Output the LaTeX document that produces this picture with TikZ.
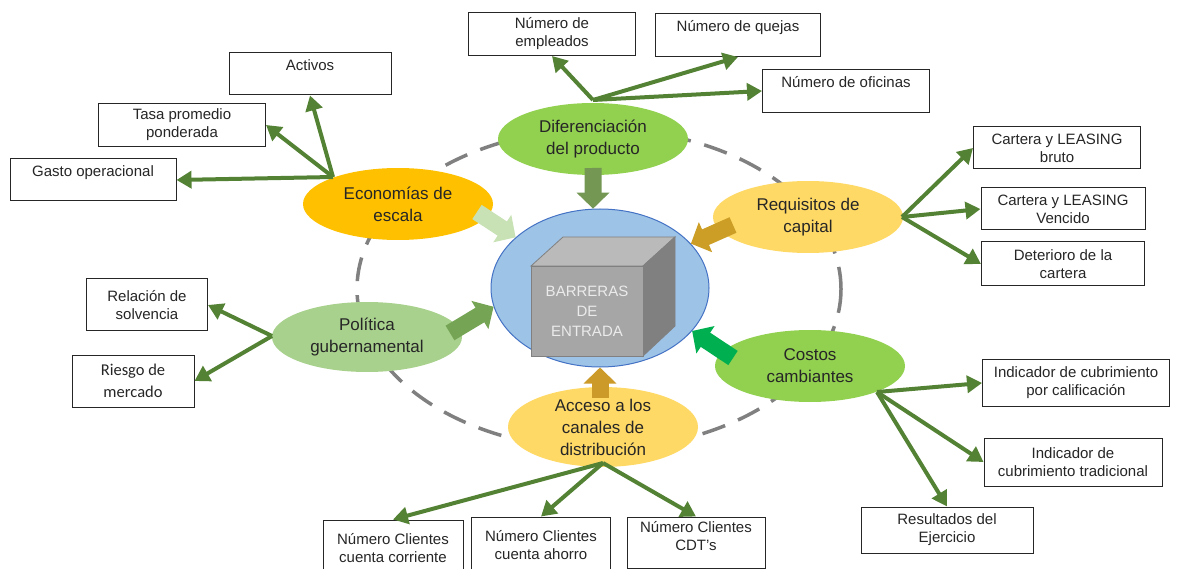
\documentclass[tikz,border=0pt]{standalone}
\usepackage{fontspec}
\setmainfont{Liberation Sans}
\newfontfamily\carlito{Carlito}
\usepackage{tikz}
\usetikzlibrary{positioning,arrows.meta,shapes.geometric}
\usepackage{xcolor}
\definecolor{linkgreen}{RGB}{84,130,53}
\definecolor{ringgray}{RGB}{128,128,128}
\definecolor{coreblue}{RGB}{157,195,230}
\definecolor{coreedge}{RGB}{68,114,196}
\definecolor{econfill}{RGB}{255,192,0}
\definecolor{diffill}{RGB}{146,208,80}
\definecolor{reqfill}{RGB}{255,217,102}
\definecolor{polfill}{RGB}{169,209,142}
\definecolor{difpush}{RGB}{116,152,84}
\definecolor{econpush}{RGB}{200,226,182}
\definecolor{reqpush}{RGB}{204,158,38}
\definecolor{polpush}{RGB}{116,164,84}
\definecolor{costpush}{RGB}{0,176,80}
\definecolor{accpush}{RGB}{204,154,40}

\tikzset{
  factor/.style={ellipse,minimum width=190pt,minimum height=72pt,inner sep=0pt,
                 align=center,text=black!85,font=\fontsize{17}{22}\selectfont},
  itembox/.style={rectangle,draw=black!85,line width=1pt,fill=white,inner sep=2pt,
                  align=center,text=black!85,font=\fontsize{15}{18}\selectfont},
  link/.style={draw=linkgreen,line width=4pt,-{Triangle[length=15pt,width=17pt]}},
  push/.style={line width=17pt,-{Triangle[length=16pt,width=32pt]}}
}

\begin{document}
\begin{tikzpicture}[x=1pt,y=-1pt]
\useasboundingbox (0,0) rectangle (1178,569);

\draw[ringgray,line width=3.5pt,dash pattern=on 24pt off 14pt] (599,289) ellipse [x radius=242,y radius=160];

\node[ellipse,draw=coreedge,line width=1pt,fill=coreblue,minimum width=218pt,minimum height=158pt] (barreras) at (600,288) {};
\fill[black!27,draw=black!50,line width=0.8pt] (531,266) -- (563,237) -- (675,237) -- (643,266) -- cycle;
\fill[black!50,draw=black!50,line width=0.8pt] (643,266) -- (675,237) -- (675,326) -- (643,356) -- cycle;
\fill[black!35!white,draw=black!50,line width=0.8pt] (531,266) rectangle (643,356);
\node[align=center,text=white!92!black,font=\fontsize{15}{20}\selectfont] (barrerastxt) at (587,311) {BARRERAS\\DE\\ENTRADA};

\node[factor,fill=diffill] (dif) at (593,139) {Diferenciación\\del producto};
\node[factor,fill=econfill] (econ) at (398,204) {Economías de\\escala};
\node[factor,fill=reqfill] (req) at (808,217) {Requisitos de\\capital};
\node[factor,fill=polfill,minimum height=70pt] (pol) at (367,337) {Política\\gubernamental};
\node[factor,fill=diffill] (cost) at (810,366) {Costos\\cambiantes};
\node[factor,fill=reqfill,minimum height=70pt] (acc) at (603,427) {Acceso a los\\canales de\\distribución};

\coordinate (diftail) at (593,168);
\coordinate (econtail) at (477,212);
\coordinate (reqtail) at (733,225);
\coordinate (poltail) at (450,333);
\coordinate (costtail) at (733,358);
\coordinate (acctail) at (600,398);
\draw[push,difpush] (diftail) -- (barreras.95);
\draw[push,econpush] (econtail) -- (barreras.149);
\draw[push,reqpush] (reqtail) -- (barreras.26);
\draw[push,polpush] (poltail) -- (barreras.190);
\draw[push,costpush] (costtail) -- (barreras.335);
\draw[push,accpush] (acctail) -- (barreras.270);

\node[itembox,minimum width=162pt,minimum height=42pt] (activos) at (310,74) {Activos\\~};
\node[itembox,minimum width=167pt,minimum height=43pt] (tasa) at (182,125) {Tasa promedio\\ponderada};
\node[itembox,minimum width=166pt,minimum height=42pt] (gasto) at (93,180) {Gasto operacional\\~};
\node[itembox,minimum width=167pt,minimum height=43pt] (empleados) at (552,34) {Número de\\empleados};
\node[itembox,minimum width=165pt,minimum height=43pt] (quejas) at (738,35) {Número de quejas\\~};
\node[itembox,minimum width=167pt,minimum height=43pt] (oficinas) at (846,91) {Número de oficinas\\~};
\node[itembox,minimum width=167pt,minimum height=42pt] (bruto) at (1057,148) {Cartera y LEASING\\bruto};
\node[itembox,minimum width=164pt,minimum height=42pt] (vencido) at (1063,209) {Cartera y LEASING\\Vencido};
\node[itembox,minimum width=163pt,minimum height=44pt] (deterioro) at (1063,264) {Deterioro de la\\cartera};
\node[itembox,minimum width=121pt,minimum height=52pt] (solvencia) at (147,305) {Relación de\\solvencia};
\node[itembox,minimum width=122pt,minimum height=52pt,font=\carlito\fontsize{16.5}{22}\selectfont] (riesgo) at (133,381) {Riesgo de\\mercado};
\node[itembox,minimum width=187pt,minimum height=47pt] (calif) at (1076,383) {Indicador de cubrimiento\\por calificación};
\node[itembox,minimum width=178pt,minimum height=48pt] (tradicional) at (1073,462) {Indicador de\\cubrimiento tradicional};
\node[itembox,minimum width=172pt,minimum height=46pt] (resultados) at (947,530) {Resultados del\\Ejercicio};
\node[itembox,minimum width=140pt,minimum height=56pt] (corriente) at (393,548) {Número Clientes\\cuenta corriente};
\node[itembox,minimum width=139pt,minimum height=56pt] (ahorro) at (541,545) {Número Clientes\\cuenta ahorro};
\node[itembox,minimum width=138pt,minimum height=51pt] (cdt) at (696,542.5) {Número Clientes\\CDT's\\[-4pt]~};

\coordinate (econhub) at (333,177);
\coordinate (difhub) at (593,100);
\coordinate (reqhub) at (902,217);
\coordinate (polhub) at (272,336);
\coordinate (costhub) at (877,392);
\coordinate (acchub) at (603,463);

\draw[link] (econhub) -- (gasto.east);
\draw[link] (econhub) -- (tasa.east);
\draw[link] (econhub) -- (activos.south);
\draw[link] (difhub) -- (empleados.south);
\draw[link] (difhub) -- (quejas.south);
\draw[link] (difhub) -- (oficinas.west);
\draw[link] (reqhub) -- (bruto.west);
\draw[link] (reqhub) -- (vencido.west);
\draw[link] (reqhub) -- (deterioro.west);
\draw[link] (polhub) -- (solvencia.east);
\draw[link] (polhub) -- (riesgo.east);
\draw[link] (costhub) -- (calif.west);
\draw[link] (costhub) -- (tradicional.west);
\draw[link] (costhub) -- (resultados.north);
\draw[link] (acchub) -- (corriente.north);
\draw[link] (acchub) -- (ahorro.north);
\draw[link] (acchub) -- (cdt.north);
\end{tikzpicture}
\end{document}
